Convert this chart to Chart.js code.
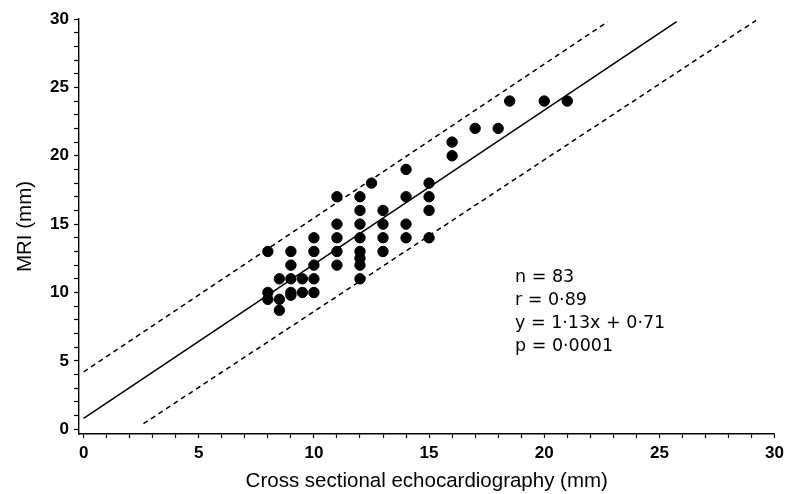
<!DOCTYPE html>
<html>
<head>
<meta charset="utf-8">
<script src="https://cdn.jsdelivr.net/npm/chart.js@4"></script>
<style>
  html, body { margin: 0; padding: 0; background: #fff; }
  #wrap { width: 789px; height: 494px; position: relative; }
</style>
</head>
<body>
<div id="wrap"><canvas id="mriChart"></canvas></div>
<script>
// Cross sectional echocardiography (x) vs MRI (y), mm
const echoValues = [8, 8, 8, 8.5, 8.5, 8.5, 9, 9, 9, 9, 9, 9.5, 9.5,
    10, 10, 10, 10, 10, 11, 11, 11, 11, 11, 12, 12, 12, 12, 12, 12, 12, 12,
    12.5, 13, 13, 13, 13, 14, 14, 14, 14, 15, 15, 15, 15, 16, 16, 17, 18, 18.5, 20, 21];
const mriValues = [13, 10, 9.5, 11, 9.5, 8.7, 13, 12, 11, 10, 9.8, 11, 10,
    14, 13, 12, 11, 10, 17, 15, 14, 13, 12, 17, 16, 15, 14, 13, 12.5, 12, 11,
    18, 16, 15, 14, 13, 19, 17, 15, 14, 18, 17, 16, 14, 21, 20, 22, 22, 24, 24, 24];

// regression line and limits, end points
const fitX = [0, 25.75];
const fitY = [0.8, 29.8];
const upperX = [0, 22.75];
const upperY = [4.2, 29.8];
const lowerX = [2.6, 29.2];
const lowerY = [0.4, 29.9];

const xTickLabels = [0, 5, 10, 15, 20, 25, 30];
const yTickLabels = [0, 5, 10, 15, 20, 25, 30];

const statsText = ['n = 83', 'r = 0\u00b789', 'y = 1\u00b713x + 0\u00b771', 'p = 0\u00b70001'];

function pairs(xs, ys) {
    return xs.map((x, i) => ({ x: x, y: ys[i] }));
}

Chart.defaults.font.family = '"Liberation Sans", Arial, sans-serif';
Chart.defaults.color = '#000';

const statsPlugin = {
    id: 'stats',
    afterDraw(chart) {
        const ctx = chart.ctx;
        ctx.save();
        ctx.fillStyle = '#000';
        ctx.font = '17.5px "DejaVu Sans", sans-serif';
        ctx.textBaseline = 'middle';
        statsText.forEach((t, i) => ctx.fillText(t, 515, 277 + i * 23));
        ctx.restore();
    }
};

function everyUnit(scale) {
    const ticks = [];
    for (let v = 0; v <= 30; v++) ticks.push({ value: v });
    scale.ticks = ticks;
}

const lineStyle = { showLine: true, pointRadius: 0, borderColor: '#000', borderWidth: 1.5, fill: false };

new Chart(document.getElementById('mriChart'), {
    type: 'scatter',
    data: {
        datasets: [
            {
                label: 'points',
                data: pairs(echoValues, mriValues),
                backgroundColor: '#000',
                borderColor: '#000',
                pointRadius: 5.2,
                pointHoverRadius: 5.2
            },
            Object.assign({ label: 'fit', data: pairs(fitX, fitY) }, lineStyle),
            Object.assign({ label: 'upper', data: pairs(upperX, upperY), borderDash: [5, 4] }, lineStyle),
            Object.assign({ label: 'lower', data: pairs(lowerX, lowerY), borderDash: [5, 4] }, lineStyle)
        ]
    },
    options: {
        responsive: true,
        maintainAspectRatio: false,
        animation: false,
        layout: { padding: { top: 19, right: 14, left: 0, bottom: 0 } },
        plugins: {
            legend: { display: false },
            tooltip: { enabled: false }
        },
        scales: {
            x: {
                type: 'linear',
                min: -0.2,
                max: 30,
                afterBuildTicks: everyUnit,
                afterFit: s => { s.height = 60; },
                border: { color: '#000', width: 1.4 },
                grid: { drawOnChartArea: false, drawTicks: true, tickLength: 4, tickColor: '#000', tickWidth: 1.2 },
                ticks: {
                    autoSkip: false,
                    maxRotation: 0,
                    padding: 5,
                    font: { size: 17, weight: 'bold' },
                    callback: v => xTickLabels.includes(v) ? String(v) : ''
                },
                title: {
                    display: true,
                    text: 'Cross sectional echocardiography (mm)',
                    font: { size: 20.5 },
                    padding: { top: 4, bottom: 0 }
                }
            },
            y: {
                type: 'linear',
                min: -0.35,
                max: 30,
                afterBuildTicks: everyUnit,
                afterFit: s => { s.width = 79; },
                border: { color: '#000', width: 1.4 },
                grid: { drawOnChartArea: false, drawTicks: true, tickLength: 5, tickColor: '#000', tickWidth: 1.2 },
                ticks: {
                    autoSkip: false,
                    padding: 5,
                    font: { size: 17, weight: 'bold' },
                    callback: v => yTickLabels.includes(v) ? String(v) : ''
                },
                title: {
                    display: true,
                    text: 'MRI (mm)',
                    font: { size: 20.5 },
                    padding: { top: 13, bottom: 4 }
                }
            }
        }
    },
    plugins: [statsPlugin]
});
</script>
</body>
</html>
